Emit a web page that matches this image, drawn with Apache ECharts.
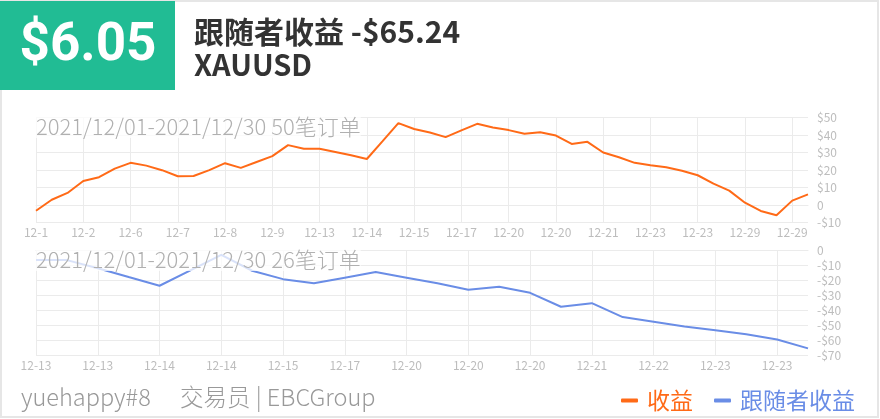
<!DOCTYPE html>
<html>
<head>
<meta charset="utf-8">
<title>XAUUSD</title>
<script src="https://cdn.jsdelivr.net/npm/echarts@6/dist/echarts.min.js"></script>
<style>
html, body { margin: 0; padding: 0; background: #fff; }
#chart { width: 880px; height: 419px; }
</style>
</head>
<body>
<div id="chart"></div>
<script>
// 交易员收益 (50笔)
var traderDates = ['12-1', '12-1', '12-2', '12-2', '12-3', '12-6', '12-6', '12-6', '12-7', '12-7',
  '12-7', '12-8', '12-8', '12-8', '12-9', '12-9', '12-10', '12-13', '12-13', '12-13',
  '12-14', '12-14', '12-14', '12-15', '12-15', '12-16', '12-16', '12-17', '12-17', '12-20',
  '12-20', '12-20', '12-20', '12-20', '12-21', '12-21', '12-21', '12-22', '12-22', '12-23',
  '12-23', '12-23', '12-23', '12-27', '12-28', '12-29', '12-29', '12-29', '12-29', '12-30']
var traderProfit = [-3.3, 3.0, 6.9, 13.7, 15.9, 20.8, 24.1, 22.5, 19.9, 16.4,
  16.6, 19.9, 23.9, 21.2, 24.6, 27.9, 34.2, 32.1, 32.1, 30.3,
  28.4, 26.3, 36.5, 46.8, 43.4, 41.4, 38.8, 42.6, 46.4, 44.3,
  42.8, 40.7, 41.6, 39.7, 34.9, 36.1, 30.0, 27.3, 24.1, 22.7,
  21.6, 19.6, 17.0, 12.2, 8.2, 1.3, -3.4, -5.9, 2.5, 6.05]

// 跟随者收益 (26笔)
var followerDates = ['12-13', '12-13', '12-13', '12-14', '12-14', '12-14', '12-14', '12-15', '12-15', '12-16',
  '12-17', '12-17', '12-20', '12-20', '12-20', '12-20', '12-20', '12-21', '12-21', '12-21',
  '12-22', '12-22', '12-23', '12-23', '12-23', '12-23']
var followerProfit = [-6.4, -6.4, -11.8, -17.7, -23.5, -13.2, -2.9, -13.5, -19.1, -21.8,
  -18.1, -14.4, -18.1, -21.9, -26.2, -24.2, -28.2, -37.5, -35.1, -44.4,
  -47.5, -50.7, -53.1, -55.8, -59.3, -65.24]

var seriesNames = ['收益', '跟随者收益']
var traderTotal = '$6.05'
var followerTotal = '-$65.24'
var symbol = 'XAUUSD'
var periodText = '2021/12/01-2021/12/30'
var traderOrders = 50
var followerOrders = 26
var traderName = 'yuehappy#8'
var traderInfo = '交易员 | EBCGroup'

var orange = '#ff6a17'
var blue = '#6a8de6'
var gridColor = '#ebebeb'
var labelColor = '#bdbdbd'
var font = 'Noto Sans CJK SC'

function money(v) {
  if (v === 0) return '0'
  return (v < 0 ? '-$' : '$') + Math.abs(v)
}

var chart = echarts.init(document.getElementById('chart'))

function xAxisOf(idx, data, every) {
  return {
    type: 'category',
    gridIndex: idx,
    data: data,
    boundaryGap: false,
    axisTick: { show: false },
    axisLine: { lineStyle: { color: gridColor } },
    axisLabel: { interval: every, color: labelColor, fontSize: 12, margin: 4, fontFamily: font },
    splitLine: { show: true, interval: every, lineStyle: { color: gridColor } }
  }
}

function yAxisOf(idx, min, max) {
  return {
    type: 'value',
    gridIndex: idx,
    position: 'right',
    min: min,
    max: max,
    interval: 10,
    axisLine: { show: false },
    axisTick: { show: false },
    axisLabel: { color: labelColor, fontSize: 12, margin: 9, fontFamily: font, formatter: money },
    splitLine: { lineStyle: { color: gridColor } }
  }
}

function periodTitle(text, top) {
  return {
    text: text,
    left: 36,
    top: top,
    padding: 0,
    backgroundColor: 'rgba(255,255,255,0.75)',
    textStyle: { fontSize: 22, fontWeight: 300, color: '#b0b0b0', fontFamily: font }
  }
}

var option = {
  animation: false,
  textStyle: { fontFamily: font },
  title: [
    periodTitle(periodText + ' ' + traderOrders + '笔订单', 116),
    periodTitle(periodText + ' ' + followerOrders + '笔订单', 249)
  ],
  legend: {
    data: [
      { name: seriesNames[0], textStyle: { color: orange } },
      { name: seriesNames[1], textStyle: { color: blue } }
    ],
    right: 20,
    top: 384,
    icon: 'roundRect',
    itemWidth: 17,
    itemHeight: 4,
    itemGap: 21,
    textStyle: { fontSize: 23, fontFamily: font, padding: [0, 0, 0, 4] }
  },
  grid: [
    { left: 36, right: 72, top: 117.5, height: 105 },
    { left: 36, right: 72, top: 250.5, height: 105 }
  ],
  xAxis: [xAxisOf(0, traderDates, 2), xAxisOf(1, followerDates, 1)],
  yAxis: [yAxisOf(0, -10, 50), yAxisOf(1, -70, 0)],
  series: [
    {
      name: seriesNames[0],
      type: 'line',
      xAxisIndex: 0,
      yAxisIndex: 0,
      data: traderProfit,
      showSymbol: false,
      color: orange,
      lineStyle: { width: 2, color: orange }
    },
    {
      name: seriesNames[1],
      type: 'line',
      xAxisIndex: 1,
      yAxisIndex: 1,
      data: followerProfit,
      showSymbol: false,
      color: blue,
      lineStyle: { width: 2, color: blue }
    }
  ],
  graphic: [
    {
      type: 'rect',
      z: -10,
      shape: { x: 1, y: 1, width: 877, height: 416 },
      style: { fill: 'none', stroke: '#e6e6e6', lineWidth: 2 }
    },
    {
      type: 'rect',
      shape: { x: 0, y: 1, width: 175, height: 89 },
      style: { fill: '#21bc94' }
    },
    {
      type: 'text',
      x: 88,
      y: 47,
      style: {
        text: traderTotal,
        fill: '#fff',
        font: 'bold 53px Roboto',
        align: 'center',
        verticalAlign: 'middle'
      }
    },
    {
      type: 'text',
      x: 194,
      y: 32,
      style: {
        text: '跟随者收益 ' + followerTotal,
        fill: '#333',
        font: 'bold 30px "Noto Sans CJK SC"',
        verticalAlign: 'middle'
      }
    },
    {
      type: 'text',
      x: 194,
      y: 65,
      style: {
        text: symbol,
        fill: '#333',
        font: 'bold 29px "Noto Sans CJK SC"',
        verticalAlign: 'middle'
      }
    },
    {
      type: 'text',
      x: 21,
      y: 397,
      style: {
        text: traderName,
        fill: '#999',
        font: '300 23.5px "Noto Sans CJK SC"',
        verticalAlign: 'middle'
      }
    },
    {
      type: 'text',
      x: 180,
      y: 397,
      style: {
        text: traderInfo,
        fill: '#999',
        font: '300 23.5px "Noto Sans CJK SC"',
        verticalAlign: 'middle'
      }
    }
  ]
}

chart.setOption(option)
</script>
</body>
</html>
